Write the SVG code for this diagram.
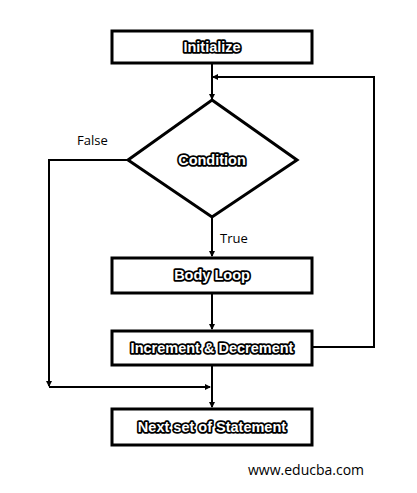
<svg xmlns="http://www.w3.org/2000/svg" width="417" height="493" viewBox="0 0 417 493">
<style>
.box{fill:#fff;stroke:#000;stroke-width:3}
.lbl{font-family:"Liberation Sans",Arial,sans-serif;font-weight:bold;font-size:14.5px;fill:#fff;stroke:#000;stroke-width:3.5;paint-order:stroke;stroke-linejoin:round;text-anchor:middle}
.edge{fill:none;stroke:#000;stroke-width:2}
.plain{font-family:"Open Sans","DejaVu Sans",sans-serif;font-size:13px;fill:#000}
</style>
<defs>
<marker id="ah" markerWidth="6" markerHeight="6" refX="5" refY="3" orient="auto" markerUnits="userSpaceOnUse">
<path d="M0,0 L6,3 L0,6 Z" fill="#000"/>
</marker>
</defs>
<rect width="417" height="493" fill="#fff"/>
<g id="connectors">
<path class="edge" d="M212,63 V99" marker-end="url(#ah)"/>
<path class="edge" d="M312,347 H374 V77 H213" marker-end="url(#ah)"/>
<path class="edge" d="M128,160 H49 V386" marker-end="url(#ah)"/>
<path class="edge" d="M212,217 V256" marker-end="url(#ah)"/>
<path class="edge" d="M212,293 V329" marker-end="url(#ah)"/>
<path class="edge" d="M212,365 V407" marker-end="url(#ah)"/>
<path class="edge" d="M49,387 H210" marker-end="url(#ah)"/>
<text class="plain" x="77" y="145">False</text>
<text class="plain" x="220" y="243">True</text>
</g>
<g id="initialize">
<rect class="box" x="112" y="31" width="200" height="32"/>
<text class="lbl" x="212" y="52">Initialize</text>
</g>
<g id="condition">
<polygon points="212,100 297,160 212,217 128,160" fill="#fff" stroke="#000" stroke-width="3"/>
<text class="lbl" x="212" y="165">Condition</text>
</g>
<g id="body">
<rect class="box" x="112" y="258" width="200" height="35"/>
<text class="lbl" x="212" y="280">Body Loop</text>
</g>
<g id="increment">
<rect class="box" x="112" y="331" width="200" height="34"/>
<text class="lbl" x="212" y="353">Increment &amp; Decrement</text>
</g>
<g id="next">
<rect class="box" x="112" y="409" width="200" height="36"/>
<text class="lbl" x="212" y="432">Next set of Statement</text>
</g>
<text class="plain" x="248" y="475" style="font-size:14px">www.educba.com</text>
</svg>
